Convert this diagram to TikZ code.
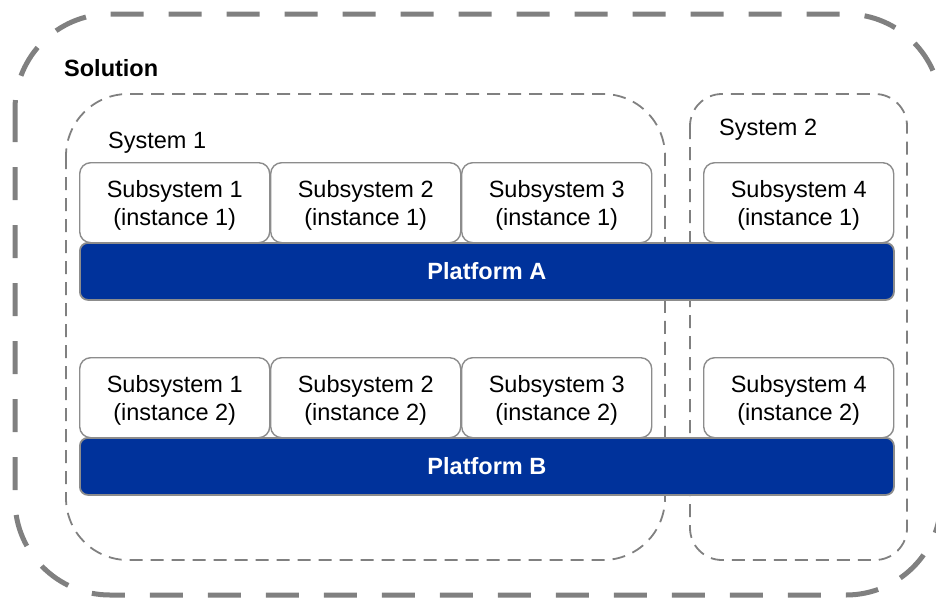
\documentclass[tikz,border=0pt]{standalone}
\usepackage{fontspec}
\setmainfont{Liberation Sans}
\definecolor{platformblue}{RGB}{0,50,155}
\definecolor{framegray}{RGB}{128,128,128}
\definecolor{edgegray}{RGB}{140,140,140}
% two centred lines, the first one given a taller strut
\newcommand{\subsystext}[2]{\rule{0pt}{23pt}#1\\#2}
\begin{document}
\begin{tikzpicture}[x=1pt,y=-1pt,
  solutionframe/.style={draw=framegray,line width=5pt,dash pattern=on 33pt off 25pt,rounded corners=95pt},
  systemframe/.style={draw=framegray,line width=1.8pt,dash pattern=on 13pt off 8pt},
  subsys/.style={draw=edgegray,line width=1.4pt,fill=white,rounded corners=11pt,
    minimum width=190pt,minimum height=80pt,inner sep=0pt,anchor=north west,
    align=center,font=\fontsize{23.5}{28}\selectfont},
  platform/.style={draw=edgegray,line width=1.8pt,fill=platformblue,rounded corners=8pt,
    minimum width=814pt,minimum height=57pt,inner sep=0pt,anchor=north west,
    text=white,font=\fontsize{23.5}{28}\selectfont\bfseries},
  label/.style={anchor=base west,inner sep=0pt,font=\fontsize{23.5}{28}\selectfont}]
\useasboundingbox (0,0) rectangle (936,597);

% outer frame of the solution
\draw[solutionframe] (15,14) rectangle (941,595);
\node[label,font=\fontsize{23.5}{28}\selectfont\bfseries] (solution) at (64,76.5) {Solution};

% system frames
\draw[systemframe,rounded corners=62pt] (66,94) rectangle (665,560);
\draw[systemframe,rounded corners=32pt] (690,94) rectangle (907,560);
\node[label] (sys1) at (108,148.5) {System 1};
\node[label] (sys2) at (719,135.5) {System 2};

% first row of subsystem instances
\node[subsys] (s11) at (79,162) {\subsystext{Subsystem 1}{(instance 1)}};
\node[subsys] (s21) at (270,162) {\subsystext{Subsystem 2}{(instance 1)}};
\node[subsys] (s31) at (461,162) {\subsystext{Subsystem 3}{(instance 1)}};
\node[subsys] (s41) at (703,162) {\subsystext{Subsystem 4}{(instance 1)}};
\node[platform] (pa) at (79,242) {Platform A};

% second row of subsystem instances
\node[subsys] (s12) at (79,357) {\subsystext{Subsystem 1}{(instance 2)}};
\node[subsys] (s22) at (270,357) {\subsystext{Subsystem 2}{(instance 2)}};
\node[subsys] (s32) at (461,357) {\subsystext{Subsystem 3}{(instance 2)}};
\node[subsys] (s42) at (703,357) {\subsystext{Subsystem 4}{(instance 2)}};
\node[platform] (pb) at (79,437) {Platform B};
\end{tikzpicture}
\end{document}
